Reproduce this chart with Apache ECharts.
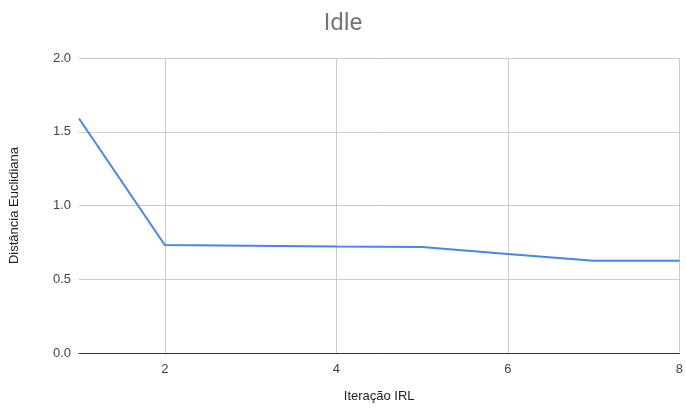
<!DOCTYPE html>
<html>
<head>
<meta charset="utf-8">
<script src="https://cdn.jsdelivr.net/npm/echarts@6/dist/echarts.min.js"></script>
<style>
	html, body { margin: 0; padding: 0; background: #fff; }
	#chart-area { width: 686px; height: 409px; }
</style>
</head>
<body>
<div id="chart-area"></div>
<script>
// iteração IRL vs distância
const iteracoes = [1, 2, 3, 4, 5, 6, 7, 8];
const distancias = [1.59, 0.732, 0.727, 0.722, 0.718, 0.671, 0.626, 0.626];
const yTicks = [0, 0.5, 1.0, 1.5, 2.0];

let chartDom = document.getElementById('chart-area');
let myChart = echarts.init(chartDom);
let option;
option = {
	animation: false,
	title: {
		text: 'Idle',
		left: 'center',
		top: 7,
		textStyle: {
			color: '#757575',
			fontSize: 24,
			fontWeight: 'normal',
			fontFamily: 'Roboto'
		}
	},
	grid: {
		left: 77,
		right: 2,
		top: 58,
		bottom: 56
	},
	xAxis: {
		type: 'value',
		min: 1,
		max: 8,
		splitNumber: 4,
		name: 'Iteração IRL',
		nameLocation: 'middle',
		nameGap: 37,
		nameTextStyle: { color: '#222', fontSize: 13, fontFamily: 'Liberation Sans' },
		axisLine: { lineStyle: { color: '#333', width: 1 } },
		axisTick: { show: false },
		axisLabel: {
			showMinLabel: false,
			color: '#444',
			fontSize: 13,
			fontFamily: 'Liberation Sans',
			margin: 10
		},
		splitLine: {
			show: true,
			showMinLine: false,
			lineStyle: { color: '#cccccc', width: 1 }
		}
	},
	yAxis: {
		type: 'value',
		min: yTicks[0],
		max: yTicks[yTicks.length - 1],
		interval: 0.5,
		name: 'Distância Euclidiana',
		nameLocation: 'middle',
		nameGap: 58,
		nameTextStyle: { color: '#222', fontSize: 13, fontFamily: 'Liberation Sans' },
		axisLine: { show: false },
		axisTick: { show: false },
		axisLabel: {
			color: '#444',
			fontSize: 13,
			fontFamily: 'Liberation Sans',
			margin: 8,
			formatter: v => v.toFixed(1)
		},
		splitLine: {
			lineStyle: { color: '#cccccc', width: 1 }
		}
	},
	series: [
		{
			name: 'Distância Euclidiana',
			type: 'line',
			showSymbol: false,
			lineStyle: { color: '#4285f4', width: 2 },
			itemStyle: { color: '#4285f4' },
			data: iteracoes.map((x, i) => [x, distancias[i]])
		}
	]
};

option && myChart.setOption(option);
</script>
</body>
</html>
